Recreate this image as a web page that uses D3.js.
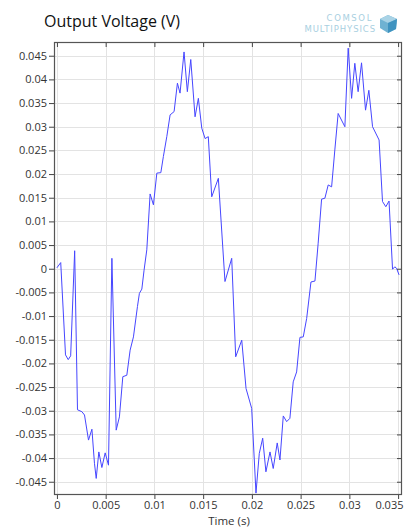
<!DOCTYPE html>
<html>
<head>
<meta charset="utf-8">
<script src="https://cdnjs.cloudflare.com/ajax/libs/d3/7.8.5/d3.min.js"></script>
<style>
  html, body { margin: 0; padding: 0; background: #fff; }
  svg { display: block; }
</style>
</head>
<body>
<div id="chart"></div>
<script>
// time (s) and output voltage (V)
const timeValues = [
  0, 0.00039, 0.00088, 0.00116, 0.00141, 0.00182, 0.00211, 0.00256, 0.00283, 0.00324,
  0.00359, 0.00385, 0.00403, 0.0043, 0.00461, 0.00495, 0.00529, 0.00564, 0.00608, 0.00641,
  0.00676, 0.00717, 0.00751, 0.00785, 0.00826, 0.00846, 0.00871, 0.00894, 0.00922, 0.00956,
  0.0099, 0.01025, 0.01066, 0.01092, 0.01127, 0.01161, 0.01202, 0.01236, 0.01263, 0.01304,
  0.01338, 0.01373, 0.01417, 0.01451, 0.01486, 0.0152, 0.01553, 0.01588, 0.01656, 0.01724,
  0.01793, 0.01834, 0.01896, 0.0194, 0.01998, 0.02042, 0.02076, 0.02111, 0.02144, 0.02186,
  0.02219, 0.0226, 0.02288, 0.02322, 0.02357, 0.0239, 0.02424, 0.02459, 0.02493, 0.02527,
  0.02562, 0.02606, 0.02647, 0.0268, 0.02715, 0.02749, 0.02783, 0.02818, 0.02851, 0.02885,
  0.02954, 0.02988, 0.03023, 0.03056, 0.0309, 0.03125, 0.03166, 0.032, 0.03238, 0.03305,
  0.0334, 0.03374, 0.03407, 0.03443, 0.03466, 0.03484, 0.0351
];
const voltageValues = [
  0.0002, 0.0013, -0.0182, -0.0192, -0.0184, 0.0038, -0.0298, -0.0302, -0.0309, -0.0362,
  -0.0339, -0.0411, -0.0443, -0.0387, -0.0420, -0.0389, -0.0415, 0.0022, -0.0341, -0.0313,
  -0.0228, -0.0225, -0.0172, -0.0144, -0.0080, -0.0052, -0.0043, -0.0003, 0.0040, 0.0158,
  0.0135, 0.0202, 0.0203, 0.0237, 0.0279, 0.0325, 0.0332, 0.0392, 0.0371, 0.0458,
  0.0374, 0.0442, 0.0321, 0.0360, 0.0297, 0.0275, 0.0279, 0.0152, 0.0191, -0.0027,
  0.0022, -0.0186, -0.0151, -0.0253, -0.0295, -0.0474, -0.0390, -0.0358, -0.0429, -0.0387,
  -0.0422, -0.0368, -0.0404, -0.0311, -0.0323, -0.0316, -0.0239, -0.0218, -0.0145, -0.0144,
  -0.0105, -0.0028, -0.0026, 0.0054, 0.0147, 0.0149, 0.0177, 0.0173, 0.0251, 0.0328,
  0.0300, 0.0466, 0.0360, 0.0434, 0.0374, 0.0435, 0.0335, 0.0377, 0.0300, 0.0272,
  0.0142, 0.0131, 0.0143, -0.0001, 0.0004, 0.0001, -0.0013
];
const xTickValues = [0, 0.005, 0.01, 0.015, 0.02, 0.025, 0.03, 0.035];
const yTickValues = [-0.045, -0.04, -0.035, -0.03, -0.025, -0.02, -0.015, -0.01, -0.005,
  0, 0.005, 0.01, 0.015, 0.02, 0.025, 0.03, 0.035, 0.04, 0.045];

const width = 409, height = 527;
const plotLeft = 54, plotRight = 402, plotTop = 42, plotBottom = 495;

const fmt = d => String(+d.toFixed(3));
const font = "'Open Sans', 'DejaVu Sans', sans-serif";

const svg = d3.select("#chart").append("svg")
  .attr("width", width)
  .attr("height", height);

const x = d3.scaleLinear().domain([-0.0003, 0.0354]).range([plotLeft, plotRight]);
const y = d3.scaleLinear().domain([-0.0478, 0.0479]).range([plotBottom, plotTop]);

// grid
svg.append("g")
  .selectAll("line")
  .data(xTickValues)
  .join("line")
  .attr("x1", d => Math.round(x(d)) + 0.5).attr("x2", d => Math.round(x(d)) + 0.5)
  .attr("y1", plotTop).attr("y2", plotBottom)
  .attr("stroke", "#e3e3e3");

svg.append("g")
  .selectAll("line")
  .data(yTickValues)
  .join("line")
  .attr("y1", d => Math.round(y(d)) + 0.5).attr("y2", d => Math.round(y(d)) + 0.5)
  .attr("x1", plotLeft).attr("x2", plotRight)
  .attr("stroke", "#e3e3e3");

// line
const line = d3.line()
  .x((d, i) => x(timeValues[i]))
  .y(d => y(d));

svg.append("path")
  .datum(voltageValues)
  .attr("fill", "none")
  .attr("stroke", "#4646ff")
  .attr("stroke-width", 1)
  .attr("stroke-linejoin", "round")
  .attr("d", line);

// axes
const styleAxis = g => {
  g.select(".domain").remove();
  g.selectAll(".tick line").attr("stroke", "#444");
  g.selectAll(".tick text").attr("fill", "#333").style("font-family", font).style("font-size", "11px");
};

svg.append("g")
  .attr("transform", `translate(${plotLeft},0)`)
  .call(d3.axisLeft(y).tickValues(yTickValues).tickFormat(fmt).tickSize(5).tickPadding(2))
  .call(styleAxis);

svg.append("g")
  .attr("transform", `translate(${plotRight},0)`)
  .call(d3.axisRight(y).tickValues(yTickValues).tickFormat("").tickSize(-5))
  .call(styleAxis);

const xAxis = svg.append("g")
  .attr("transform", `translate(0,${plotBottom})`)
  .call(d3.axisBottom(x).tickValues(xTickValues).tickFormat(fmt).tickSize(4).tickPadding(2))
  .call(styleAxis);
// last label is kept inside the frame, as in the original
xAxis.selectAll(".tick text")
  .filter(d => d === xTickValues[xTickValues.length - 1])
  .attr("text-anchor", "end")
  .attr("x", plotRight - x(xTickValues[xTickValues.length - 1]) + 1);

svg.append("g")
  .attr("transform", `translate(0,${plotTop})`)
  .call(d3.axisTop(x).tickValues(xTickValues).tickFormat("").tickSize(-5))
  .call(styleAxis);

// frame
svg.append("rect")
  .attr("x", plotLeft + 0.5).attr("y", plotTop + 0.5)
  .attr("width", plotRight - plotLeft - 1).attr("height", plotBottom - plotTop - 1)
  .attr("fill", "none")
  .attr("stroke", "#555")
  .attr("stroke-width", 1.2);

// titles
svg.append("text")
  .attr("x", 44).attr("y", 27)
  .style("font-family", font).style("font-size", "16px")
  .attr("fill", "#111")
  .text("Output Voltage (V)");

svg.append("text")
  .attr("x", 229).attr("y", 524.5)
  .attr("text-anchor", "middle")
  .style("font-family", font).style("font-size", "11.5px")
  .attr("fill", "#333")
  .text("Time (s)");

// logo
const logo = svg.append("g");
logo.append("text")
  .attr("x", 373).attr("y", 21)
  .attr("text-anchor", "end")
  .style("font-family", "'DejaVu Sans', sans-serif").style("font-size", "8.5px")
  .style("letter-spacing", "1.6px")
  .attr("fill", "#a8cfdf")
  .text("COMSOL");
logo.append("text")
  .attr("x", 376).attr("y", 32)
  .attr("text-anchor", "end")
  .style("font-family", "'DejaVu Sans', sans-serif").style("font-size", "8.5px")
  .style("letter-spacing", "0.9px")
  .attr("fill", "#a8cfdf")
  .text("MULTIPHYSICS");
logo.append("path")
  .attr("d", "M388,15 L397,19 L396,29 L388,33 L380,28 L380,19 Z")
  .attr("fill", "#6fb2d2");
logo.append("path")
  .attr("d", "M388,15 L397,19 L388,23 L380,19 Z")
  .attr("fill", "#a9d3e6");
logo.append("path")
  .attr("d", "M388,23 L397,19 L396,29 L388,33 Z")
  .attr("fill", "#3f93c0");
</script>
</body>
</html>
